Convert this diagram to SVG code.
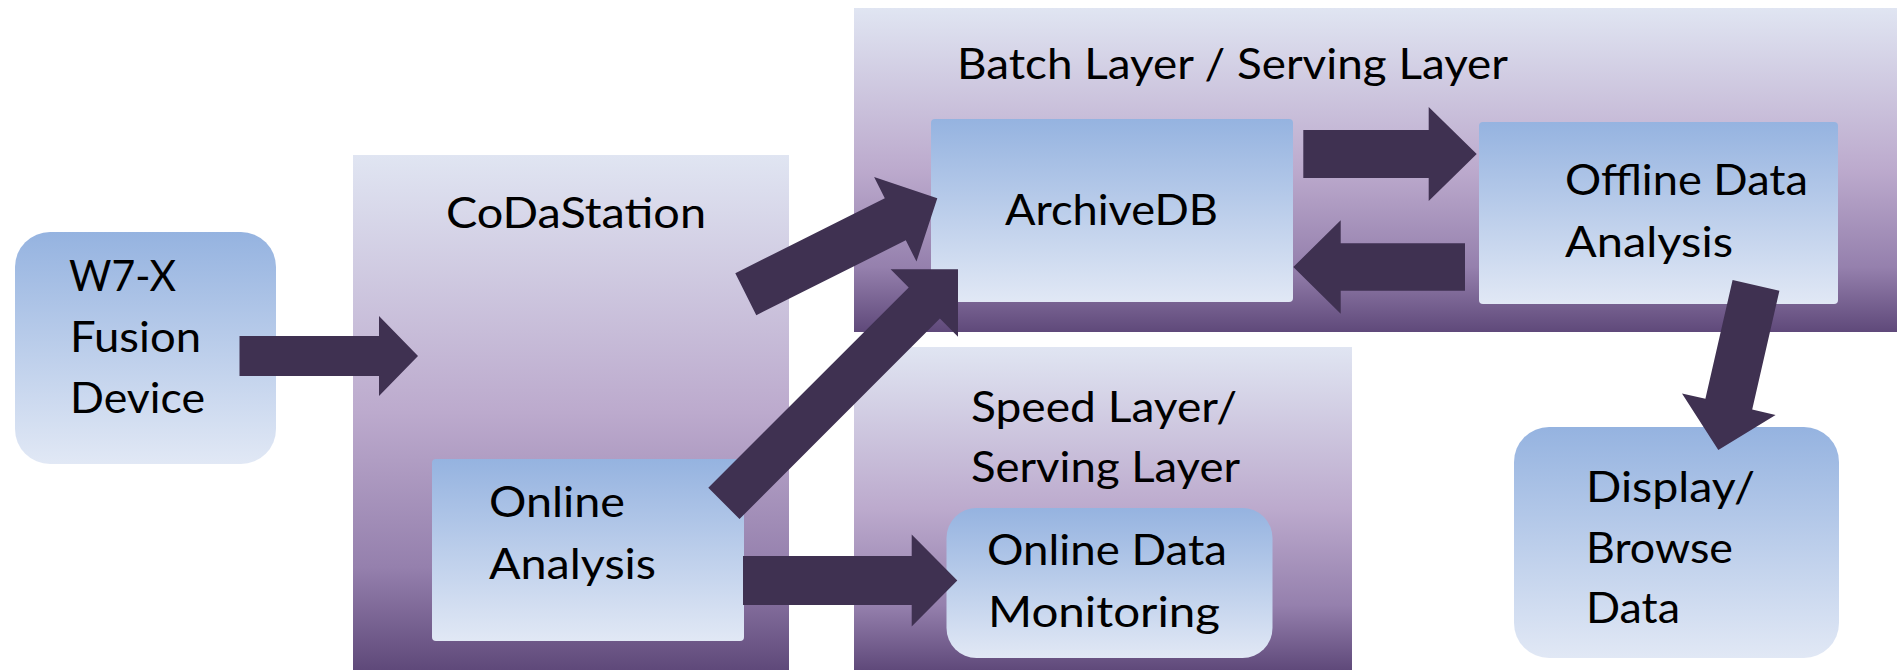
<svg xmlns="http://www.w3.org/2000/svg" width="1897" height="672" viewBox="0 0 1897 672">
<defs>
<linearGradient id="gCont" x1="0" y1="0" x2="0" y2="1">
<stop offset="0" stop-color="#e0e5f2"/>
<stop offset="0.5" stop-color="#bcaacd"/>
<stop offset="0.8" stop-color="#9580ad"/>
<stop offset="1" stop-color="#5f497a"/>
</linearGradient>
<linearGradient id="gNode" x1="0" y1="0" x2="0" y2="1">
<stop offset="0" stop-color="#95b3e0"/>
<stop offset="1" stop-color="#e1e8f5"/>
</linearGradient>
</defs>
<style>
.cont{fill:url(#gCont);}
.node{fill:url(#gNode);}
.lbl{font-family:Lato,"Open Sans","Liberation Sans",sans-serif;font-size:42.5px;fill:#000;}
.arr{fill:#3f3151;}
</style>
<rect width="1897" height="672" fill="#ffffff"/>

<g id="codastation">
<rect class="cont" x="353" y="155" width="436" height="515"/>
<text class="lbl" x="446" y="228" textLength="260" lengthAdjust="spacingAndGlyphs">CoDaStation</text>
</g>
<g id="batch-layer">
<rect class="cont" x="854" y="8" width="1043" height="324"/>
<text class="lbl" x="957" y="79" textLength="551" lengthAdjust="spacingAndGlyphs">Batch Layer / Serving Layer</text>
</g>
<g id="speed-layer">
<rect class="cont" x="854" y="347" width="498" height="323"/>
<text class="lbl" x="971" y="422" textLength="266" lengthAdjust="spacingAndGlyphs">Speed Layer/</text>
<text class="lbl" x="971" y="482" textLength="269" lengthAdjust="spacingAndGlyphs">Serving Layer</text>
</g>

<g id="w7x">
<rect class="node" x="15" y="232" width="261" height="232" rx="35" ry="35"/>
<text class="lbl" x="69" y="291" textLength="107" lengthAdjust="spacingAndGlyphs">W7-X</text>
<text class="lbl" x="70" y="352" textLength="131" lengthAdjust="spacingAndGlyphs">Fusion</text>
<text class="lbl" x="70" y="413" textLength="135" lengthAdjust="spacingAndGlyphs">Device</text>
</g>
<g id="online-analysis">
<rect class="node" x="432" y="459" width="312" height="182" rx="4" ry="4"/>
<text class="lbl" x="489" y="517" textLength="136" lengthAdjust="spacingAndGlyphs">Online</text>
<text class="lbl" x="489" y="579" textLength="167" lengthAdjust="spacingAndGlyphs">Analysis</text>
</g>
<g id="archivedb">
<rect class="node" x="931" y="119" width="362" height="183" rx="4" ry="4"/>
<text class="lbl" x="1005" y="225" textLength="213" lengthAdjust="spacingAndGlyphs">ArchiveDB</text>
</g>
<g id="offline-analysis">
<rect class="node" x="1479" y="122" width="359" height="182" rx="4" ry="4"/>
<text class="lbl" x="1565" y="195" textLength="243" lengthAdjust="spacingAndGlyphs">Offline Data</text>
<text class="lbl" x="1565" y="257" textLength="168" lengthAdjust="spacingAndGlyphs">Analysis</text>
</g>
<g id="online-monitoring">
<rect class="node" x="946.5" y="508" width="326" height="150" rx="30" ry="30"/>
<text class="lbl" x="987" y="565" textLength="240" lengthAdjust="spacingAndGlyphs">Online Data</text>
<text class="lbl" x="988" y="627" textLength="232" lengthAdjust="spacingAndGlyphs">Monitoring</text>
</g>
<g id="display-browse">
<rect class="node" x="1514" y="427" width="325" height="231" rx="35" ry="35"/>
<text class="lbl" x="1586" y="502" textLength="169" lengthAdjust="spacingAndGlyphs">Display/</text>
<text class="lbl" x="1586" y="563" textLength="147" lengthAdjust="spacingAndGlyphs">Browse</text>
<text class="lbl" x="1586" y="623" textLength="94" lengthAdjust="spacingAndGlyphs">Data</text>
</g>

<g id="connectors">
<polygon class="arr" points="239.5,336 379,336 379,316 418,356 379,396 379,376 239.5,376"/>
<polygon class="arr" points="735.3,273.2 884.8,198.3 874.1,177 937.3,198.3 916.5,261.6 905.8,240.3 756.3,315.2"/>
<polygon class="arr" points="708.3,487.8 908.7,287.4 890.6,269.3 958,269.3 958,336.7 939.9,318.6 739.5,519"/>
<polygon class="arr" points="1303.3,130 1428.7,130 1428.7,107 1476.7,154 1428.7,201 1428.7,178 1303.3,178"/>
<polygon class="arr" points="1465,243.3 1340.7,243.3 1340.7,220.3 1293.3,267 1340.7,313.7 1340.7,290.7 1465,290.7"/>
<polygon class="arr" points="743,556 911.7,556 911.7,534.5 957.3,580.5 911.7,626.5 911.7,605 743,605"/>
<polygon class="arr" points="1732.6,280 1705.4,398.8 1682,393.5 1718.3,450 1775.6,414.9 1752.2,409.6 1779.4,290.7"/>
</g>
</svg>
